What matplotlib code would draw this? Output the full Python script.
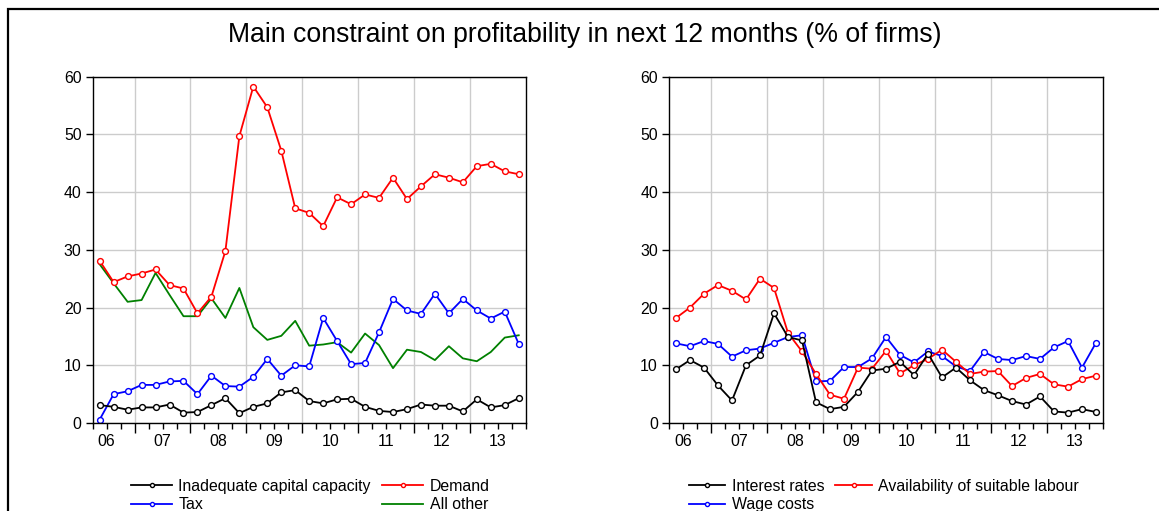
import matplotlib
matplotlib.use("Agg")
import matplotlib.pyplot as plt
from matplotlib.patches import Rectangle

plt.rcParams['font.family'] = ['Liberation Sans', 'DejaVu Sans']

# quarterly, 2006Q2 .. 2013Q4
YEARS = ["06", "07", "08", "09", "10", "11", "12", "13"]

capacity = [3.1, 2.8, 2.3, 2.7, 2.7, 3.2, 1.8, 1.9, 3.1, 4.3, 1.7, 2.8, 3.4, 5.3, 5.7, 3.8,
            3.4, 4.1, 4.2, 2.8, 2.1, 1.9, 2.4, 3.2, 3.0, 3.0, 2.0, 4.1, 2.7, 3.1, 4.3]
demand = [28.1, 24.4, 25.4, 25.9, 26.6, 23.9, 23.3, 19.0, 21.9, 29.8, 49.7, 58.3, 54.7, 47.2, 37.2, 36.4,
          34.1, 39.1, 37.9, 39.6, 39.0, 42.5, 38.8, 41.0, 43.1, 42.5, 41.7, 44.5, 44.9, 43.6, 43.1]
tax = [0.6, 5.0, 5.5, 6.6, 6.6, 7.2, 7.3, 5.0, 8.2, 6.4, 6.3, 8.0, 11.1, 8.2, 10.0, 9.8,
       18.2, 14.2, 10.2, 10.4, 15.7, 21.5, 19.5, 18.9, 22.4, 19.0, 21.5, 19.5, 18.1, 19.3, 13.7]
all_other = [27.5, 24.2, 21.0, 21.3, 26.0, 22.2, 18.5, 18.5, 21.6, 18.2, 23.4, 16.6, 14.4, 15.1, 17.7, 13.4,
             13.6, 14.0, 12.2, 15.5, 13.5, 9.5, 12.7, 12.3, 10.9, 13.3, 11.2, 10.7, 12.3, 14.8, 15.2]

interest = [9.3, 10.9, 9.6, 6.5, 3.9, 10.0, 11.7, 19.0, 14.9, 14.3, 3.6, 2.4, 2.8, 5.4, 9.1, 9.4,
            10.6, 8.3, 12.0, 7.9, 9.6, 7.4, 5.7, 4.8, 3.8, 3.2, 4.6, 2.0, 1.8, 2.4, 1.9]
labour = [18.2, 20.0, 22.4, 23.9, 22.9, 21.4, 25.0, 23.4, 15.6, 12.4, 8.5, 4.9, 4.2, 9.6, 9.4, 12.5,
          8.6, 10.0, 11.1, 12.7, 10.6, 8.5, 8.9, 9.0, 6.4, 7.8, 8.5, 6.7, 6.3, 7.6, 8.2]
wages = [13.8, 13.3, 14.2, 13.7, 11.5, 12.6, 12.9, 13.9, 14.9, 15.2, 7.2, 7.3, 9.7, 9.7, 11.2, 14.9,
         11.8, 10.5, 12.4, 11.6, 9.8, 9.0, 12.3, 11.1, 10.9, 11.6, 11.1, 13.1, 14.2, 9.6, 13.9]

n = len(demand)
xs = [i + 0.5 for i in range(n)]

fig = plt.figure(figsize=(11.59, 5.11), dpi=100)
fig.patches.append(Rectangle((8 / 1159, -0.1), 2, 1 - 9 / 511 + 0.1, transform=fig.transFigure,
                             fill=False, edgecolor='black', linewidth=1.6))
fig.text(0.5048, 0.931, "Main constraint on profitability in next 12 months (% of firms)",
         ha='center', va='center', fontsize=19.2)

FS = 11.4


def style_axes(ax):
    ax.set_xlim(0, n)
    ax.set_ylim(0, 60)
    ax.set_yticks(range(0, 61, 10))
    ax.set_xticks([3 + 4 * k for k in range(7)])
    ax.set_xticklabels([])
    ax.set_xticks(range(0, n + 1), minor=True)
    ax.tick_params(axis='x', which='major', length=7, width=1, direction='out')
    ax.tick_params(axis='x', which='minor', length=4, width=1, direction='out')
    ax.tick_params(axis='y', length=5, width=1, direction='out', labelsize=FS, pad=3)
    ax.grid(True, color='#cccccc', linewidth=1)
    ax.set_axisbelow(True)
    for s in ax.spines.values():
        s.set_linewidth(1)
    sec = ax.secondary_xaxis('bottom')
    sec.set_xticks([1 + 4 * k for k in range(len(YEARS))])
    sec.set_xticklabels(YEARS)
    sec.tick_params(length=0, labelsize=FS, pad=8)
    sec.spines['bottom'].set_visible(False)


def series(ax, y, color, label, marker=True):
    if marker:
        return ax.plot(xs, y, color=color, linewidth=1.3, marker='o', markersize=4.2,
                       markerfacecolor='white', markeredgecolor=color, markeredgewidth=1,
                       label=label)[0]
    return ax.plot(xs, y, color=color, linewidth=1.3, label=label)[0]


def legend(ax, handles, labels, x0, hl):
    ax.legend(handles, labels, ncol=2, loc='upper left', bbox_to_anchor=(x0 / 1159, 1 - 479 / 511),
              bbox_transform=fig.transFigure, frameon=False, fontsize=FS,
              handlelength=hl, handletextpad=0.4, columnspacing=0.7,
              labelspacing=0.2, borderpad=0, borderaxespad=0, markerscale=0.7)


ax1 = fig.add_axes([92.7 / 1159, 1 - 423 / 511, 433 / 1159, 346.3 / 511])
h_ag = series(ax1, all_other, '#008000', 'All other', marker=False)
h_tx = series(ax1, tax, '#0000ff', 'Tax')
h_cc = series(ax1, capacity, 'black', 'Inadequate capital capacity')
h_dm = series(ax1, demand, '#ff0000', 'Demand')
style_axes(ax1)
legend(ax1, [h_cc, h_tx, h_dm, h_ag],
       ['Inadequate capital capacity', 'Tax', 'Demand', 'All other'], 131, 2.6)

ax2 = fig.add_axes([669 / 1159, 1 - 423 / 511, 434 / 1159, 346.3 / 511])
h_wg = series(ax2, wages, '#0000ff', 'Wage costs')
h_lb = series(ax2, labour, '#ff0000', 'Availability of suitable labour')
h_ir = series(ax2, interest, 'black', 'Interest rates')
style_axes(ax2)
legend(ax2, [h_ir, h_wg, h_lb],
       ['Interest rates', 'Wage costs', 'Availability of suitable labour'], 689, 2.3)

fig.savefig("out.png", dpi=100)
